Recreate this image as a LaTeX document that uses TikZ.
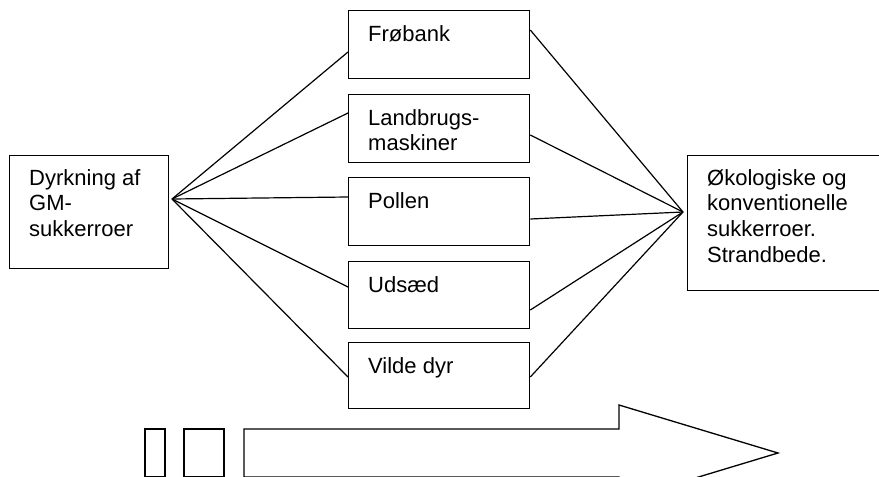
\documentclass[tikz,border=0pt]{standalone}
\usepackage{fontspec}
\setmainfont{Liberation Sans}
\begin{document}
\begin{tikzpicture}[x=1pt,y=-1pt,
  box/.style={draw=black,line width=1.3pt,rectangle,inner sep=0pt,anchor=north west},
  txt/.style={anchor=base west,inner sep=0pt,align=left,font=\fontsize{22}{25.7}\selectfont},
  conn/.style={draw=black,line width=1.2pt}]
\useasboundingbox (0,0) rectangle (879,477);
\clip (0,0) rectangle (879,477);
\fill[white] (0,0) rectangle (879,477);
% boxes
\node[box,minimum width=159pt,minimum height=113pt] (dyrk) at (9,155) {};
\node[box,minimum width=200pt,minimum height=135pt] (oko) at (687,155) {};
\node[box,minimum width=181pt,minimum height=68pt] (frob) at (348,10) {};
\node[box,minimum width=181pt,minimum height=68pt] (land) at (348,94) {};
\node[box,minimum width=181pt,minimum height=68pt] (poll) at (348,177) {};
\node[box,minimum width=181pt,minimum height=67pt] (udsa) at (348,261) {};
\node[box,minimum width=181pt,minimum height=66pt] (vild) at (348,342) {};
% texts (base = last line baseline)
\node[txt] (tdyrk) at (29,236.4) {Dyrkning af\\GM-\\sukkerroer};
\node[txt] (toko) at (707,262.1) {Økologiske og\\konventionelle\\sukkerroer.\\Strandbede.};
\node[txt] (tfrob) at (368,41) {Frøbank};
\node[txt] (tland) at (368,150.7) {Landbrugs-\\maskiner};
\node[txt] (tpoll) at (368,208) {Pollen};
\node[txt] (tudsa) at (368,292) {Udsæd};
\node[txt] (tvild) at (368,373) {Vilde dyr};
% convergence points
\coordinate (L) at (172,199);
\coordinate (R) at (683,212);
\draw[conn] (L) -- ([yshift=-42pt]frob.north west);
\draw[conn] (L) -- ([yshift=-19pt]land.north west);
\draw[conn] (L) -- ([yshift=-20pt]poll.north west);
\draw[conn] (L) -- ([yshift=-26pt]udsa.north west);
\draw[conn] (L) -- ([yshift=-35pt]vild.north west);
\draw[conn] (R) -- ([yshift=-20pt]frob.north east);
\draw[conn] (R) -- ([yshift=-41pt]land.north east);
\draw[conn] (R) -- ([yshift=-42pt]poll.north east);
\draw[conn] (R) -- ([yshift=-49pt]udsa.north east);
\draw[conn] (R) -- ([yshift=-35pt]vild.north east);
% bottom arrow
\draw[line width=1.3pt] (145,477) rectangle (165,429);
\draw[line width=1.3pt] (184,477) rectangle (224,429);
\draw[line width=1.3pt,line join=miter] (244,477) -- (244,429) -- (619,429) -- (619,405) -- (778,453) -- (619,501) -- (619,477) -- cycle;
\end{tikzpicture}
\end{document}
